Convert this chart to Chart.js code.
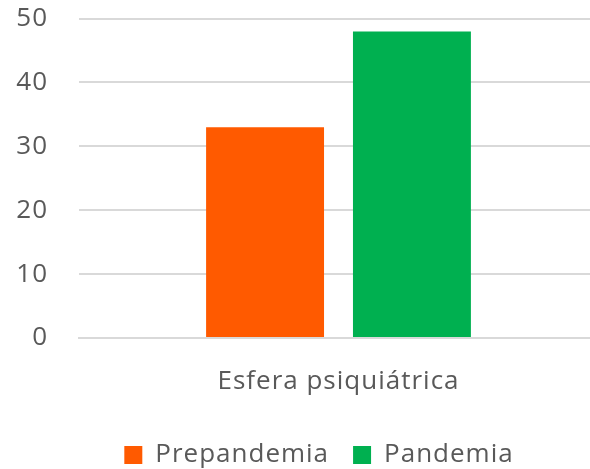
<!DOCTYPE html>
<html>
<head>
<meta charset="utf-8">
<script src="https://cdn.jsdelivr.net/npm/chart.js@4"></script>
<style>
html,body{margin:0;padding:0;background:#fff;overflow:hidden;}
#wrap{position:relative;width:590px;height:469px;overflow:hidden;}
#c{position:absolute;left:0;top:-28px;}
</style>
</head>
<body>
<div id="wrap"><canvas id="c" width="605" height="497"></canvas></div>
<script>
const categories = ["Esfera psiquiátrica"];
const seriesNames = ["Prepandemia", "Pandemia"];
const prepandemia = [33];
const pandemia = [48];
const yTicks = [0, 10, 20, 30, 40, 50];

const textColor = "#595959";
const gridColor = "#d9d9d9";
const fontFamily = "'Open Sans', 'Noto Sans', sans-serif";

const spacingPlugin = {
  id: "spacing",
  beforeUpdate(chart) { chart.ctx.letterSpacing = "1px"; },
  beforeLayout(chart) { chart.ctx.letterSpacing = "1px"; },
  afterLayout(chart) {
    if (chart.legend) { chart.legend.left += 20; chart.legend.right += 20; }
  },
  beforeDraw(chart) { chart.ctx.letterSpacing = "1px"; }
};

new Chart(document.getElementById("c"), {
  type: "bar",
  plugins: [spacingPlugin],
  data: {
    labels: categories,
    datasets: [
      { label: seriesNames[0], data: prepandemia, backgroundColor: "#FF5A00", borderWidth: 0 },
      { label: seriesNames[1], data: pandemia, backgroundColor: "#00B050", borderWidth: 0 }
    ]
  },
  options: {
    responsive: false,
    animation: false,
    devicePixelRatio: 1,
    layout: { padding: { left: 0, right: 7, top: 0, bottom: -9 } },
    datasets: { bar: { categoryPercentage: 0.566, barPercentage: 0.803 } },
    scales: {
      x: {
        grid: { display: false, drawTicks: false },
        border: { display: true, color: gridColor, width: 2 },
        ticks: { color: textColor, font: { family: fontFamily, size: 26 }, padding: 28 },
        afterFit: (s) => { s.height = 80; }
      },
      y: {
        min: 0, max: 50,
        afterBuildTicks: (axis) => { axis.ticks = yTicks.map(v => ({ value: v })); },
        grid: { color: gridColor, lineWidth: 2, drawTicks: false },
        border: { display: false },
        ticks: { color: textColor, font: { family: fontFamily, size: 26 }, padding: 31 },
        afterFit: (s) => { s.width = 79; }
      }
    },
    plugins: {
      legend: {
        position: "bottom",
        labels: { color: textColor, font: { family: fontFamily, size: 26 }, boxWidth: 18, boxHeight: 18, padding: 24 }
      },
      tooltip: { enabled: false }
    }
  }
});
</script>
</body>
</html>
